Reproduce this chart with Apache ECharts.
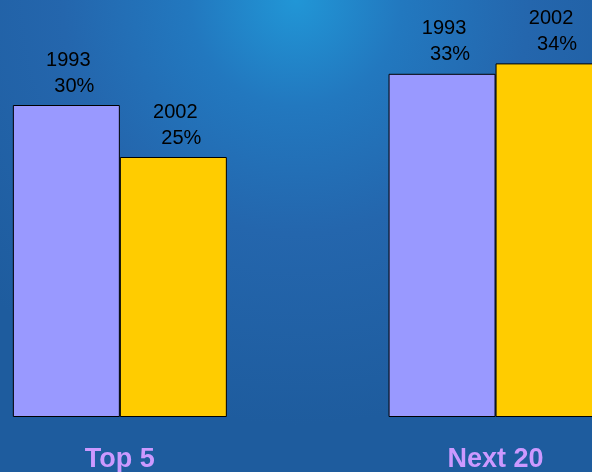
<!DOCTYPE html>
<html>
<head>
<meta charset="utf-8">
<script src="https://cdn.jsdelivr.net/npm/echarts@6/dist/echarts.min.js"></script>
<style>
html,body{margin:0;padding:0;}
#chart{width:592px;height:472px;}
</style>
</head>
<body>
<div id="chart"></div>
<script>
var categories = ['Top 5', 'Next 20'];
var seriesNames = ['1993', '2002'];
var values1993 = [30, 33];
var values2002 = [25, 34];

var chart = echarts.init(document.getElementById('chart'), null, {renderer: 'canvas'});

function makeLabel(name) {
  return {
    show: true,
    position: 'top',
    distance: 6,
    formatter: function (p) { return '{y|' + name + '}\n{v|' + p.value + '%}'; },
    rich: {
      y: {fontSize: 20, lineHeight: 26, color: '#000', fontFamily: 'Liberation Sans, Arial', padding: [0, 0, 0, 4]},
      v: {fontSize: 20, lineHeight: 26, color: '#000', fontFamily: 'Liberation Sans, Arial', padding: [0, 0, 0, 16]}
    }
  };
}

chart.setOption({
  animation: false,
  backgroundColor: {
    type: 'radial', x: 0.5, y: 0.0, r: 0.9,
    colorStops: [
      {offset: 0, color: '#2196d6'},
      {offset: 0.25, color: '#2278bf'},
      {offset: 0.55, color: '#2466ad'},
      {offset: 1, color: '#1e5c9e'}
    ]
  },
  grid: {left: -68, width: 751.4, top: 1, bottom: 55, containLabel: false, outerBoundsMode: 'none'},
  xAxis: {
    type: 'category',
    data: categories,
    axisLine: {show: false},
    axisTick: {show: false},
    axisLabel: {
      color: '#CC99FF', fontSize: 27, fontWeight: 'bold',
      fontFamily: 'Liberation Sans, Arial', margin: 29
    }
  },
  yAxis: {
    type: 'value', min: 0, max: 40, interval: 10, show: false,
    splitLine: {show: false}
  },
  series: [
    {
      name: seriesNames[0], type: 'bar', data: values1993,
      barWidth: 107, barGap: '0%',
      itemStyle: {color: '#9999FF', borderColor: '#000', borderWidth: 1},
      label: makeLabel(seriesNames[0])
    },
    {
      name: seriesNames[1], type: 'bar', data: values2002,
      barWidth: 107, barGap: '0%',
      itemStyle: {color: '#FFCC00', borderColor: '#000', borderWidth: 1},
      label: makeLabel(seriesNames[1])
    }
  ]
});
</script>
</body>
</html>
